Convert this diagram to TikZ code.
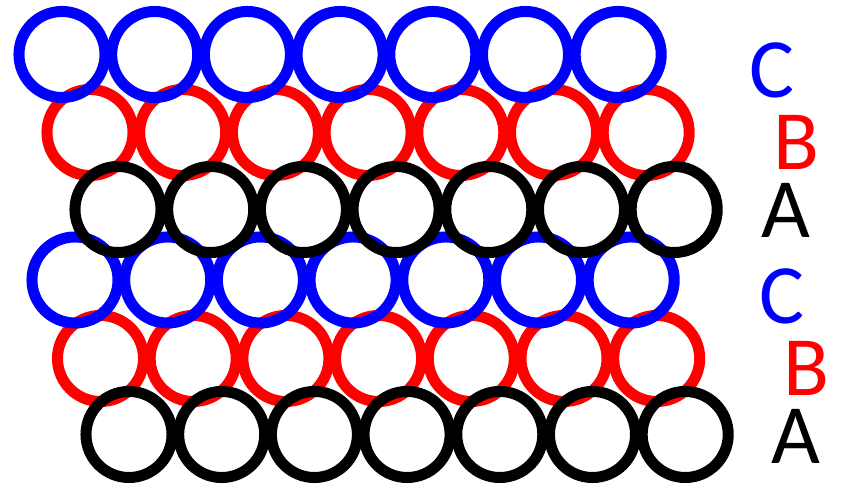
\documentclass[tikz,border=0pt]{standalone}
\usepackage{tikz}
\usepackage{xcolor}
\usepackage{fontspec}
\newfontfamily\stackfont{Carlito}
\newcommand{\layerword}[1]{{\stackfont\fontsize{24}{24}\selectfont #1}}

\begin{document}
\begin{tikzpicture}[
    x=0.01cm,y=-0.01cm,
    ring/.style={circle,draw=#1,line width=0.11cm,minimum size=0.86cm,inner sep=0pt},
    layerlabel/.style={text=#1,inner sep=0pt,anchor=center}
  ]
    \useasboundingbox (0,0) rectangle (841,489);

    % red layers first, blue over them, black on top
    \foreach \row/\col/\xs/\ys in {b1/red/90/132.5, b2/red/100.5/358.5,
        c1/blue/62/54.5, c2/blue/75/280,
        a1/black/118/209.5, a2/black/129/434.5} {
      \foreach \i in {0,...,6} {
        \node[ring=\col] (\row-\i) at ({\xs+92.7*\i},\ys) {};
      }
    }

    \node[layerlabel=blue] (labc1) at (772,70.5) {\layerword{C}};
    \node[layerlabel=red] (labb1) at (796,142.5) {\layerword{B}};
    \node[layerlabel=black] (laba1) at (786,210.5) {\layerword{A}};
    \node[layerlabel=blue] (labc2) at (782.5,296.5) {\layerword{C}};
    \node[layerlabel=red] (labb2) at (806.5,368.5) {\layerword{B}};
    \node[layerlabel=black] (laba2) at (796,436.5) {\layerword{A}};
  \end{tikzpicture}
\end{document}
